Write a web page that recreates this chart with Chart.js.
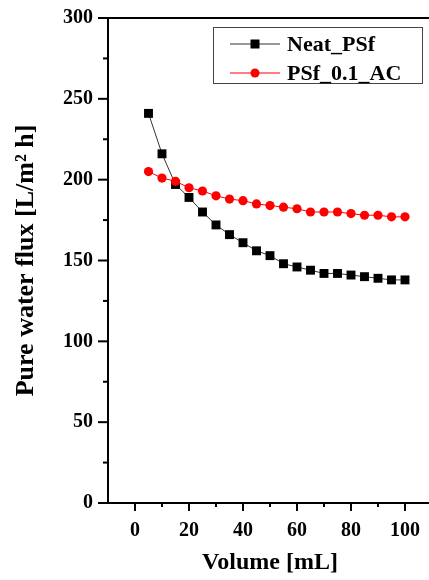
<!DOCTYPE html>
<html>
<head>
<meta charset="utf-8">
<script src="https://cdn.jsdelivr.net/npm/chart.js@4.4.1/dist/chart.umd.min.js"></script>
<style>
  html, body { margin: 0; padding: 0; background: #fff; overflow: hidden; }
  #myChart { display: block; width: 433px; height: 580px; }
</style>
</head>
<body>
<canvas id="myChart" width="433" height="580"></canvas>
<script>
// volume in mL
const volume = [5, 10, 15, 20, 25, 30, 35, 40, 45, 50, 55, 60, 65, 70, 75, 80, 85, 90, 95, 100];
// pure water flux, L/m2 h
const neatPSf = [241, 216, 197, 189, 180, 172, 166, 161, 156, 153, 148, 146, 144, 142, 142, 141, 140, 139, 138, 138];
const psfAC = [205, 201, 199, 195, 193, 190, 188, 187, 185, 184, 183, 182, 180, 180, 180, 179, 178, 178, 177, 177];
const seriesNames = ["Neat_PSf", "PSf_0.1_AC"];

const serif = "'Liberation Serif', 'Times New Roman', serif";

function toPoints(ys) {
  return volume.map((v, i) => ({ x: v, y: ys[i] }));
}

// draws major/minor tick marks, top border and the boxed legend
const extras = {
  id: 'extras',
  afterDraw(chart) {
    const ctx = chart.ctx;
    const area = chart.chartArea;
    const xs = chart.scales.x, ys = chart.scales.y;
    ctx.save();
    ctx.strokeStyle = '#000';
    ctx.lineWidth = 2;
    ys.ticks.forEach(t => {
      const py = ys.getPixelForValue(t.value);
      const len = t.value % 50 === 0 ? 10 : 5;
      ctx.beginPath();
      ctx.moveTo(area.left - len, py);
      ctx.lineTo(area.left, py);
      ctx.stroke();
    });
    xs.ticks.forEach(t => {
      if (t.value < 0 || t.value > 100 || t.value % 10 !== 0) return;
      const px = xs.getPixelForValue(t.value);
      const len = t.value % 20 === 0 ? 8 : 4;
      ctx.beginPath();
      ctx.moveTo(px, area.bottom);
      ctx.lineTo(px, area.bottom + len);
      ctx.stroke();
    });
    // top and right frame
    ctx.beginPath();
    ctx.moveTo(area.left - 1, area.top);
    ctx.lineTo(area.right, area.top);
    ctx.lineTo(area.right, area.bottom);
    ctx.stroke();

    // legend
    const bx = area.left + 105, by = area.top + 9, bw = 209, bh = 56;
    ctx.lineWidth = 1;
    ctx.strokeStyle = '#444';
    ctx.strokeRect(bx + 0.5, by + 0.5, bw, bh);
    chart.data.datasets.forEach((ds, i) => {
      const cy = by + 17 + i * 29;
      const lx = bx + 17;
      ctx.strokeStyle = ds.borderColor;
      ctx.lineWidth = 1;
      ctx.beginPath();
      ctx.moveTo(lx, cy);
      ctx.lineTo(lx + 50, cy);
      ctx.stroke();
      ctx.fillStyle = ds.pointBackgroundColor;
      ctx.beginPath();
      if (ds.pointStyle === 'rect') {
        ctx.rect(lx + 25 - 4.5, cy - 4.5, 9, 9);
      } else {
        ctx.arc(lx + 25, cy, 4.5, 0, Math.PI * 2);
      }
      ctx.fill();
      ctx.fillStyle = '#000';
      ctx.font = 'bold 22px ' + serif;
      ctx.textBaseline = 'middle';
      ctx.textAlign = 'left';
      ctx.fillText(ds.label, lx + 57, cy + 1);
    });
    ctx.restore();
  }
};

new Chart(document.getElementById('myChart'), {
  type: 'scatter',
  data: {
    datasets: [
      {
        label: seriesNames[0],
        data: toPoints(neatPSf),
        showLine: true,
        borderColor: '#333',
        borderWidth: 1,
        pointStyle: 'rect',
        pointRadius: 6.3,
        pointBackgroundColor: '#000',
        pointBorderWidth: 0,
        order: 2
      },
      {
        label: seriesNames[1],
        data: toPoints(psfAC),
        showLine: true,
        borderColor: '#ff0000',
        borderWidth: 1,
        pointStyle: 'circle',
        pointRadius: 4.6,
        pointBackgroundColor: '#f00',
        pointBorderWidth: 0,
        order: 1
      }
    ]
  },
  options: {
    responsive: false,
    animation: false,
    layout: { autoPadding: false, padding: { top: 18, right: 1, left: 0, bottom: 0 } },
    plugins: { legend: { display: false }, tooltip: { enabled: false } },
    scales: {
      x: {
        type: 'linear',
        min: -10,
        max: 110,
        grid: { drawOnChartArea: false, tickLength: 16, tickColor: 'transparent' },
        border: { display: true, color: '#000', width: 2 },
        ticks: {
          stepSize: 10,
          autoSkip: false,
          maxRotation: 0,
          padding: 0,
          color: '#000',
          font: { family: serif, size: 20, weight: 'bold' },
          callback: v => (v >= 0 && v <= 100 && v % 20 === 0) ? v : ''
        },
        title: {
          display: true,
          text: 'Volume [mL]',
          color: '#000',
          font: { family: serif, size: 24, weight: 'bold' },
          padding: { top: 0, bottom: 3 }
        },
        afterFit: s => { s.height = 77; }
      },
      y: {
        min: 0,
        max: 300,
        grid: { drawOnChartArea: false, tickLength: 10, tickColor: 'transparent' },
        border: { display: true, color: '#000', width: 2 },
        ticks: {
          stepSize: 25,
          autoSkip: false,
          padding: 5,
          color: '#000',
          font: { family: serif, size: 20, weight: 'bold' },
          callback: v => v % 50 === 0 ? v : ''
        },
        title: {
          display: true,
          text: 'Pure water flux [L/m² h]',
          color: '#000',
          font: { family: serif, size: 26, weight: 'bold' },
          padding: { top: 11, bottom: 0 }
        },
        afterFit: s => { s.width = 108; }
      }
    }
  },
  plugins: [extras]
});
</script>
</body>
</html>
